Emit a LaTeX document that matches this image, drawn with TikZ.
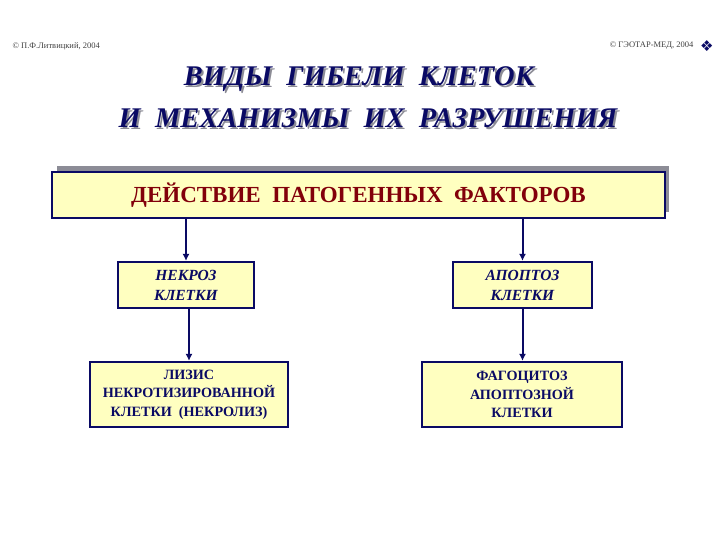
\documentclass[tikz,border=0pt]{standalone}
\usepackage{fontspec}
\setmainfont{Liberation Serif}
\newfontfamily\symbfont{DejaVu Sans}
\usetikzlibrary{arrows.meta}
\definecolor{boxfill}{RGB}{255,255,192}
\definecolor{navy}{RGB}{10,10,100}
\definecolor{darkred}{RGB}{130,0,10}
\definecolor{shadowgray}{RGB}{140,140,150}
\begin{document}
\begin{tikzpicture}[x=1pt,y=-1pt,
    box/.style={draw=navy,line width=2.2pt,fill=boxfill,align=center,inner sep=0pt},
    arr/.style={navy,line width=2pt,-{Latex[length=7pt,width=7pt]}},
    ttl/.style={font=\fontsize{28.5}{30}\selectfont\bfseries\itshape},
    hdr/.style={font=\fontsize{8.5}{9}\selectfont,text=black!75}]
    \useasboundingbox (0,0) rectangle (720,540);
    % header
    \node[hdr,anchor=west] (cl) at (9,46) {© П.Ф.Литвицкий, 2004};
    \node[hdr,anchor=east] (cr) at (697,46) {© ГЭОТАР-МЕД, 2004};
    \node[anchor=west,inner sep=0pt,text=navy] (orn) at (700,46) {\symbfont\fontsize{15}{15}\selectfont ❖};
    % title
    \node[ttl,text=shadowgray] at (361,81) {ВИДЫ\ \ ГИБЕЛИ\ \ КЛЕТОК};
    \node[ttl,text=shadowgray] at (370,120) {И\ \ МЕХАНИЗМЫ\ \ ИХ\ \ РАЗРУШЕНИЯ};
    \node[ttl,text=navy] (t1) at (359,79) {ВИДЫ\ \ ГИБЕЛИ\ \ КЛЕТОК};
    \node[ttl,text=navy] (t2) at (368,118) {И\ \ МЕХАНИЗМЫ\ \ ИХ\ \ РАЗРУШЕНИЯ};
    % boxes
    \fill[shadowgray] (57,166) rectangle (669,212);
    \node[box,minimum width=613pt,minimum height=46pt,text=darkred,
          font=\fontsize{23}{25}\selectfont\bfseries] (f) at (358.5,195)
          {ДЕЙСТВИЕ\ \ ПАТОГЕННЫХ\ \ ФАКТОРОВ};
    \node[box,minimum width=136pt,minimum height=46pt,text=navy,
          font=\fontsize{15.5}{20}\selectfont\bfseries\itshape] (n) at (186,285)
          {НЕКРОЗ\\КЛЕТКИ};
    \node[box,minimum width=139pt,minimum height=46pt,text=navy,
          font=\fontsize{15.5}{20}\selectfont\bfseries\itshape] (a) at (522.5,285)
          {АПОПТОЗ\\КЛЕТКИ};
    \node[box,minimum width=198pt,minimum height=65pt,text=navy,
          font=\fontsize{14.2}{18.5}\selectfont\bfseries] (l) at (189,394.5)
          {ЛИЗИС\\НЕКРОТИЗИРОВАННОЙ\\КЛЕТКИ\ \ (НЕКРОЛИЗ)};
    \node[box,minimum width=200pt,minimum height=65pt,text=navy,
          font=\fontsize{14.2}{18.5}\selectfont\bfseries] (p) at (522,394.5)
          {ФАГОЦИТОЗ\\АПОПТОЗНОЙ\\КЛЕТКИ};
    % arrows
    \draw[arr] (f.south -| n) -- (n.north);
    \draw[arr] (f.south -| a) -- (a.north);
    \draw[arr] (n.south -| l) -- (l.north);
    \draw[arr] (a.south) -- (a.south |- p.north);
\end{tikzpicture}
\end{document}
